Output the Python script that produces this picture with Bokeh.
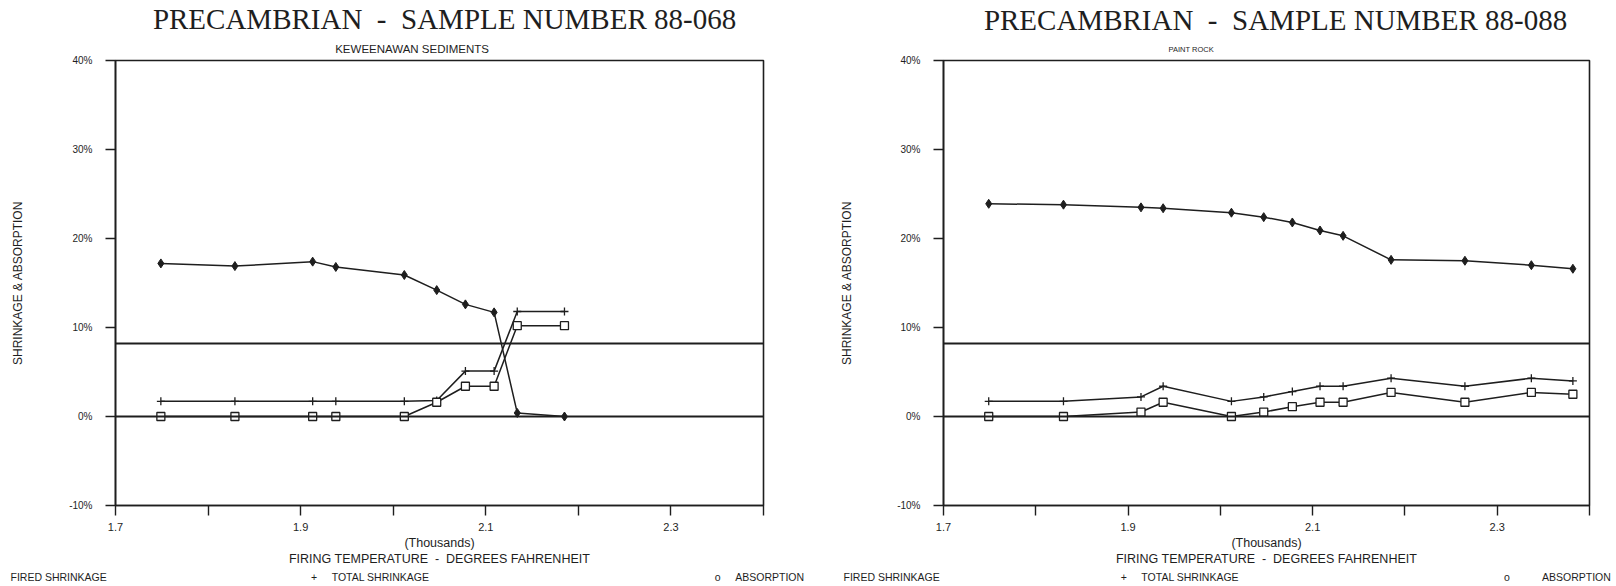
import math
from bokeh.plotting import figure
from bokeh.layouts import row
from bokeh.models import Span, Title, FixedTicker, PrintfTickFormatter
from bokeh.embed import file_html
from bokeh.resources import INLINE

# ---------------- data (firing temperature in thousands of deg F, values in %) -------------
temps_a = [1.749, 1.829, 1.913, 1.938, 2.012, 2.047, 2.078, 2.109, 2.134, 2.185]
fired_a = [0.0, 0.0, 0.0, 0.0, 0.0, 1.6, 3.4, 3.4, 10.2, 10.2]
total_a = [1.7, 1.7, 1.7, 1.7, 1.7, 1.8, 5.1, 5.1, 11.8, 11.8]
absorb_a = [17.2, 16.9, 17.4, 16.8, 15.9, 14.2, 12.6, 11.7, 0.4, 0.0]

temps_b = [1.749, 1.830, 1.914, 1.938, 2.012, 2.047, 2.078, 2.108, 2.133, 2.185, 2.265, 2.337, 2.382]
fired_b = [0.0, 0.0, 0.5, 1.6, 0.0, 0.5, 1.1, 1.6, 1.6, 2.7, 1.6, 2.7, 2.5]
total_b = [1.7, 1.7, 2.2, 3.4, 1.7, 2.2, 2.8, 3.4, 3.4, 4.3, 3.4, 4.3, 4.0]
absorb_b = [23.9, 23.8, 23.5, 23.4, 22.9, 22.4, 21.8, 20.9, 20.3, 17.6, 17.5, 17.0, 16.6]

NB = "\u00a0"
titles = ["PRECAMBRIAN" + NB * 2 + "-" + NB * 2 + "SAMPLE NUMBER 88-068",
          "PRECAMBRIAN" + NB * 2 + "-" + NB * 2 + "SAMPLE NUMBER 88-088"]
subtitles = ["KEWEENAWAN SEDIMENTS", "PAINT ROCK"]
x_major = [1.7, 1.9, 2.1, 2.3]
x_minor = [1.8, 2.0, 2.2, 2.4]
y_ticks = [-10, 0, 10, 20, 30, 40]
ref_level = 8.2
y_title = "SHRINKAGE & ABSORPTION"
x_title = "(Thousands)\nFIRING TEMPERATURE" + NB * 2 + "-" + NB * 2 + "DEGREES FAHRENHEIT"
legend_names = ["FIRED SHRINKAGE", "TOTAL SHRINKAGE", "ABSORPTION"]

INK = "#1e1e1e"
SANS = "Liberation Sans"
SERIF = "Liberation Serif"

# advance widths (1/1000 em): Liberation Sans (Arial metrics) and Liberation Serif (Times metrics)
W_SANS = {" ": 278, NB: 278, "+": 584, "o": 556, "-": 333, "A": 667, "B": 667, "C": 722,
          "D": 722, "E": 667, "F": 611, "G": 778, "H": 722, "I": 278, "K": 667, "L": 556,
          "M": 833, "N": 722, "O": 778, "P": 667, "R": 722, "S": 667, "T": 611, "U": 722,
          "W": 944}
W_SERIF = {" ": 250, NB: 250, "-": 333, "A": 722, "B": 667, "C": 667, "E": 611, "I": 333,
           "L": 611, "M": 889, "N": 722, "P": 556, "R": 667, "S": 556, "U": 722}


def tw(s, size, table=W_SANS):
    return sum(table.get(c, 500) for c in s) * size / 1000.0


H = 584
TOP = 60
FH = 445
BOT = H - TOP - FH
LEG_SIZE = 10.5


def legend_line(pos):
    # pos: page-x of fired start, "+" centre, total start, "o" centre, absorption start
    f0, pc, t0, oc, a0 = pos
    size = LEG_SIZE
    nbw = tw(NB, size)
    s = legend_names[0]
    cur = f0 + tw(s, size)
    pieces = [(pc - tw("+", size) / 2, "+"), (t0, legend_names[1]),
              (oc - tw("o", size) / 2, "o"), (a0, legend_names[2])]
    for start, txt in pieces:
        n = max(1, int(round((start - cur) / nbw)))
        s += NB * n + txt
        cur += n * nbw + tw(txt, size)
    return s


def make(temps, fired, total, absorb, title, subtitle, page_left, border_left, frame_w, width,
         title_cx, title_standoff, sub_cx, sub_size, sub_standoff, ylab_standoff, legend_pos):
    border_right = width - border_left - frame_w
    frame_left = page_left + border_left
    p = figure(frame_width=frame_w, frame_height=FH, x_range=(1.7, 2.4), y_range=(-10, 40),
               min_border_left=border_left, min_border_right=border_right,
               min_border_top=TOP, min_border_bottom=BOT, title=None,
               output_backend="svg", toolbar_location=None, background_fill_color="white",
               border_fill_color="white")
    p.grid.visible = False
    p.outline_line_color = INK
    p.outline_line_width = 1.6

    xa = p.xaxis[0]
    xa.ticker = FixedTicker(ticks=x_major, minor_ticks=x_minor)
    xa.major_tick_in = 0
    xa.major_tick_out = 10
    xa.minor_tick_in = 0
    xa.minor_tick_out = 10
    xa.major_tick_line_color = INK
    xa.minor_tick_line_color = INK
    xa.major_tick_line_width = 1.4
    xa.minor_tick_line_width = 1.4
    xa.axis_line_color = INK
    xa.axis_line_width = 1.6
    xa.major_label_standoff = 7
    xa.major_label_text_font = SANS
    xa.major_label_text_font_size = "11px"
    xa.major_label_text_color = INK
    xa.axis_label = x_title
    xa.axis_label_text_font = SANS
    xa.axis_label_text_font_size = "12.5px"
    xa.axis_label_text_font_style = "normal"
    xa.axis_label_text_color = INK
    xa.axis_label_standoff = 2
    xa.axis_label_text_line_height = 1.15

    ya = p.yaxis[0]
    ya.ticker = FixedTicker(ticks=y_ticks, minor_ticks=[])
    ya.formatter = PrintfTickFormatter(format="%d%%")
    ya.major_tick_in = 0
    ya.major_tick_out = 10
    ya.minor_tick_out = 0
    ya.minor_tick_in = 0
    ya.major_tick_line_color = INK
    ya.major_tick_line_width = 1.4
    ya.axis_line_color = INK
    ya.axis_line_width = 1.6
    ya.major_label_standoff = 13
    ya.major_label_text_font = SANS
    ya.major_label_text_font_size = "10px"
    ya.major_label_text_color = INK
    ya.axis_label = y_title
    ya.axis_label_text_font = SANS
    ya.axis_label_text_font_size = "12px"
    ya.axis_label_text_font_style = "normal"
    ya.axis_label_text_color = INK
    ya.axis_label_standoff = ylab_standoff

    p.add_layout(Span(location=0, dimension="width", line_color=INK, line_width=2.0))
    p.add_layout(Span(location=ref_level, dimension="width", line_color=INK, line_width=2.0))

    # series
    p.line(temps, absorb, line_color=INK, line_width=1.5)
    p.scatter(temps, absorb, marker="diamond", size=9, fill_color=INK, line_color=INK)
    p.line(temps, total, line_color=INK, line_width=1.5)
    p.scatter(temps, total, marker="cross", size=8, line_color=INK, line_width=1.3)
    p.line(temps, fired, line_color=INK, line_width=1.5)
    p.scatter(temps, fired, marker="square", size=8, fill_color="white", line_color=INK, line_width=1.3)

    # titles above (first added sits closest to the frame)
    sub_w = tw(subtitle, sub_size)
    p.add_layout(Title(text=subtitle, align="left", offset=sub_cx - frame_left - sub_w / 2.0,
                       text_font=SANS, text_font_size="%spx" % sub_size, text_font_style="normal",
                       text_color=INK, standoff=sub_standoff), "above")
    t_size = 29
    t_w = tw(title, t_size, W_SERIF)
    p.add_layout(Title(text=title, align="left", offset=title_cx - frame_left - t_w / 2.0,
                       text_font=SERIF, text_font_size="%dpx" % t_size, text_font_style="normal",
                       text_color=INK, standoff=title_standoff), "above")
    # legend line below the axis title
    p.add_layout(Title(text=legend_line(legend_pos), align="left",
                       offset=legend_pos[0] - frame_left,
                       text_font=SANS, text_font_size="%spx" % LEG_SIZE, text_font_style="normal",
                       text_color=INK, standoff=0), "below")
    return p


p1 = make(temps_a, fired_a, total_a, absorb_a, titles[0], subtitles[0], 0, 115, 648, 808,
          444, 0, 412, 11.5, 12, 41, (10, 314, 332, 718, 736))
p2 = make(temps_b, fired_b, total_b, absorb_b, titles[1], subtitles[1], 808, 135, 646, 808,
          1275, 1, 1191, 7.5, 13, 40, (843, 1123, 1141, 1509, 1542))

layout = row(p1, p2, spacing=0)
open("out.html", "w").write(file_html(layout, INLINE))
